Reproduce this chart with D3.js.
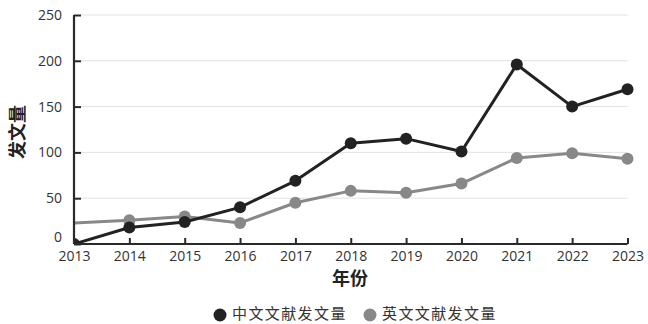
<!DOCTYPE html>
<html><head><meta charset="utf-8">
<script src="https://cdn.jsdelivr.net/npm/d3@7"></script>
<style>body{margin:0;background:#fff}svg{display:block}text{font-family:"Noto Sans CJK SC","Noto Sans",sans-serif}</style>
</head><body>
<svg id="c" width="648" height="324"></svg>
<script>
const years = [2013,2014,2015,2016,2017,2018,2019,2020,2021,2022,2023];
const chinese = [0,18,24,40,69,110,115,101,196,150,169];
const english = [23,26,30,23,45,58,56,66,94,99,93];
const yTicks = [0,50,100,150,200,250];
const seriesNames = ["中文文献发文量","英文文献发文量"];
const colors = ["#222222","#888888"];

const svg = d3.select("#c");
const L=74, R=627.5, T=15, B=244;
const x = d3.scaleLinear().domain([2013,2023]).range([L,R]);
const y = d3.scaleLinear().domain([0,250]).range([B,T]);

// gridlines
svg.append("g").selectAll("line").data(yTicks.filter(d=>d>0)).join("line")
  .attr("x1",L).attr("x2",R).attr("y1",d=>y(d)).attr("y2",d=>y(d))
  .attr("stroke","#e2e2e2").attr("stroke-width",1);

svg.append("defs").append("clipPath").attr("id","clip").append("rect")
  .attr("x",L).attr("y",0).attr("width",648-L).attr("height",B);

const line = d3.line().x((d,i)=>x(years[i])).y(d=>y(d));
const series = [english, chinese];
const sc = [colors[1], colors[0]];
series.forEach((s,k)=>{
  const g = svg.append("g").attr("clip-path","url(#clip)");
  g.append("path").datum(s).attr("d",line).attr("fill","none")
    .attr("stroke",sc[k]).attr("stroke-width",3).attr("stroke-linejoin","round");
  g.selectAll("circle").data(s.map((v,i)=>({v,i})).filter(d=>!(k===0&&d.i===0))).join("circle")
    .attr("cx",d=>x(years[d.i])).attr("cy",d=>y(d.v)).attr("r",6).attr("fill",sc[k]);
});

// axes
const yAxis = svg.append("g").attr("transform",`translate(${L},0)`)
  .call(d3.axisLeft(y).tickValues(yTicks).tickSize(-7).tickPadding(12).tickFormat(d3.format("d")));
const xAxis = svg.append("g").attr("transform",`translate(0,${B})`)
  .call(d3.axisBottom(x).tickValues(years).tickSize(-6).tickPadding(4).tickFormat(d3.format("d")));
[yAxis,xAxis].forEach(a=>{
  a.select(".domain").attr("stroke","#2a2a2a").attr("stroke-width",2.2);
  a.selectAll(".tick line").attr("stroke","#2a2a2a").attr("stroke-width",2);
  a.selectAll("text").attr("fill","#333").style("font-size","14px").style("font-family","'Open Sans','Noto Sans',sans-serif");
});
yAxis.select(".domain").attr("d",`M0,${T}V${B}`);
xAxis.select(".domain").attr("d",`M${L},0H${R}`);
yAxis.selectAll(".tick text").attr("dy",d=>d===0?"-0.2em":"0.32em");
xAxis.selectAll(".tick text").attr("dy","0.9em");

// titles
svg.append("text").attr("x",350).attr("y",280).attr("text-anchor","middle")
  .attr("dominant-baseline","middle").attr("font-weight","bold").attr("font-size",18).attr("fill","#222").text("年份");
svg.append("text").attr("transform","translate(19,132) rotate(-90)").attr("text-anchor","middle")
  .attr("dominant-baseline","middle").attr("font-weight","bold").attr("font-size",18).attr("fill","#222").text("发文量");

// legend
const leg = [{n:seriesNames[0],c:colors[0],x:220},{n:seriesNames[1],c:colors[1],x:370}];
const lg = svg.append("g").selectAll("g").data(leg).join("g").attr("transform",d=>`translate(${d.x},315)`);
lg.append("circle").attr("r",6.5).attr("fill",d=>d.c);
lg.append("text").attr("x",12).attr("dominant-baseline","middle").attr("font-size",15)
  .attr("letter-spacing","1.4px").attr("fill","#333").text(d=>d.n);
</script>
</body></html>
